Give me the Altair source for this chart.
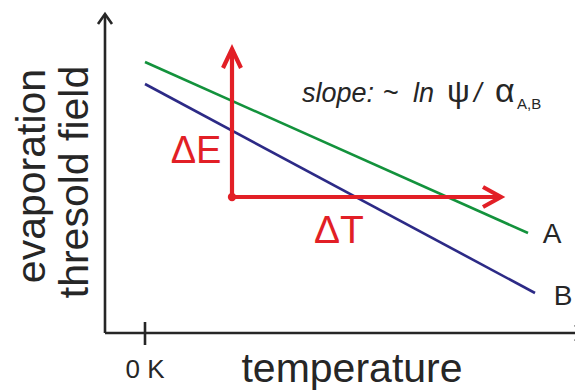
import altair as alt
import pandas as pd

# ---- data (schematic units: x = temperature, y = evaporation threshold field) ----
# straight line segments: x1, y1, x2, y2
seg_name = ["yaxis", "xaxis", "tick", "A", "B", "dT", "dE"]
seg_x1 = [-40, -40, 0, 0, 0, 87, 87]
seg_y1 = [0, 0, -12, 271, 249, 136, 136]
seg_x2 = [-40, 440, 0, 383, 390, 355, 87]
seg_y2 = [318, 0, 11, 100, 40, 136, 283]
seg_grp = ["axis", "axis", "axis", "A", "B", "red", "red"]

# arrow heads: three points each (arm, tip, arm)
head_id = ["y", "y", "y", "x", "x", "x", "dE", "dE", "dE", "dT", "dT", "dT"]
head_x = [-47, -40, -33, 430, 439, 430, 78, 87, 96, 338, 356, 338]
head_y = [309, 319, 309, 8, 0, -8, 265, 284, 265, 146, 136, 126]
head_grp = ["axis"] * 6 + ["red"] * 6
head_ord = [0, 1, 2] * 4

dot_x = [87]
dot_y = [136]

# text labels
lab_text = ["ΔE", "ΔT", "A", "B", "temperature", "0\u00a0K"]
lab_x = [51, 194, 407, 418, 207, 0]
lab_y = [170, 90, 90, 28, -49, -45]
lab_size = [38, 39, 28, 28, 41, 26]
lab_grp = ["red", "red", "axis", "axis", "axis", "axis"]

# slope annotation pieces
sl_text = ["slope:", "~", "ln", "ψ", "/", "α"]
sl_x = [157, 238, 268, 302, 329, 350]
sl_style = ["italic", "normal", "italic", "normal", "italic", "normal"]
sl_size = [27, 27, 27, 32, 27, 34]
sl_y = 231
sub_text = "A,B"
sub_x = 372
sub_y = 224

ytitle_text = ["evaporation", "thresold field"]
ytitle_x = [-100, -57]
ytitle_y = [157, 151]

XD = [-137, 430]
YD = [-57, 325]

colors = {"axis": "#262626", "A": "#13923c", "B": "#2c2a86", "red": "#e21f26"}
widths = {"axis": 2.6, "A": 2.6, "B": 2.6, "red": 4.2}
FONT = "Liberation Sans"

xs = alt.Scale(domain=XD, nice=False, zero=False)
ys = alt.Scale(domain=YD, nice=False, zero=False)

segs = pd.DataFrame(dict(name=seg_name, x1=seg_x1, y1=seg_y1, x2=seg_x2, y2=seg_y2, grp=seg_grp))
heads = pd.DataFrame(dict(id=head_id, x=head_x, y=head_y, grp=head_grp, o=head_ord))

X = lambda f: alt.X(f, scale=xs, axis=None)
Y = lambda f: alt.Y(f, scale=ys, axis=None)

layers = []
for g in ["A", "B", "axis", "red"]:
    d = segs[segs.grp == g]
    if len(d):
        layers.append(
            alt.Chart(d).mark_rule(color=colors[g], strokeWidth=widths[g], clip=True).encode(
                x=X("x1:Q"), y=Y("y1:Q"), x2="x2:Q", y2="y2:Q",
            )
        )
    h = heads[heads.grp == g]
    if len(h):
        layers.append(
            alt.Chart(h).mark_line(color=colors[g], strokeWidth=widths[g], clip=True,
                                   strokeJoin="miter").encode(
                x=X("x:Q"), y=Y("y:Q"), detail="id:N", order="o:Q",
            )
        )

layers.append(
    alt.Chart(pd.DataFrame(dict(x=dot_x, y=dot_y))).mark_circle(
        color=colors["red"], opacity=1, size=70
    ).encode(x=X("x:Q"), y=Y("y:Q"))
)

for t, x, y, fs, g in zip(lab_text, lab_x, lab_y, lab_size, lab_grp):
    layers.append(
        alt.Chart(pd.DataFrame(dict(t=[t], x=[x], y=[y]))).mark_text(
            color=colors[g], fontSize=fs, font=FONT, baseline="alphabetic", align="center"
        ).encode(x=X("x:Q"), y=Y("y:Q"), text="t:N")
    )

for t, x, st, fs in zip(sl_text, sl_x, sl_style, sl_size):
    layers.append(
        alt.Chart(pd.DataFrame(dict(t=[t], x=[x], y=[sl_y]))).mark_text(
            color=colors["axis"], fontSize=fs, font=FONT, fontStyle=st,
            baseline="alphabetic", align="left"
        ).encode(x=X("x:Q"), y=Y("y:Q"), text="t:N")
    )
layers.append(
    alt.Chart(pd.DataFrame(dict(t=[sub_text], x=[sub_x], y=[sub_y]))).mark_text(
        color=colors["axis"], fontSize=15, font=FONT, baseline="alphabetic", align="left"
    ).encode(x=X("x:Q"), y=Y("y:Q"), text="t:N")
)

for t, x, y in zip(ytitle_text, ytitle_x, ytitle_y):
    layers.append(
        alt.Chart(pd.DataFrame(dict(t=[t], x=[x], y=[y]))).mark_text(
            color=colors["axis"], fontSize=41, font=FONT, angle=270,
            baseline="alphabetic", align="center"
        ).encode(x=X("x:Q"), y=Y("y:Q"), text="t:N")
    )

chart = alt.layer(*layers).properties(
    width=567, height=382, padding=0, autosize=alt.AutoSizeParams(type="none")
).configure_view(stroke=None)

chart.save("out.html", embed_options={"renderer": "svg", "actions": False})
